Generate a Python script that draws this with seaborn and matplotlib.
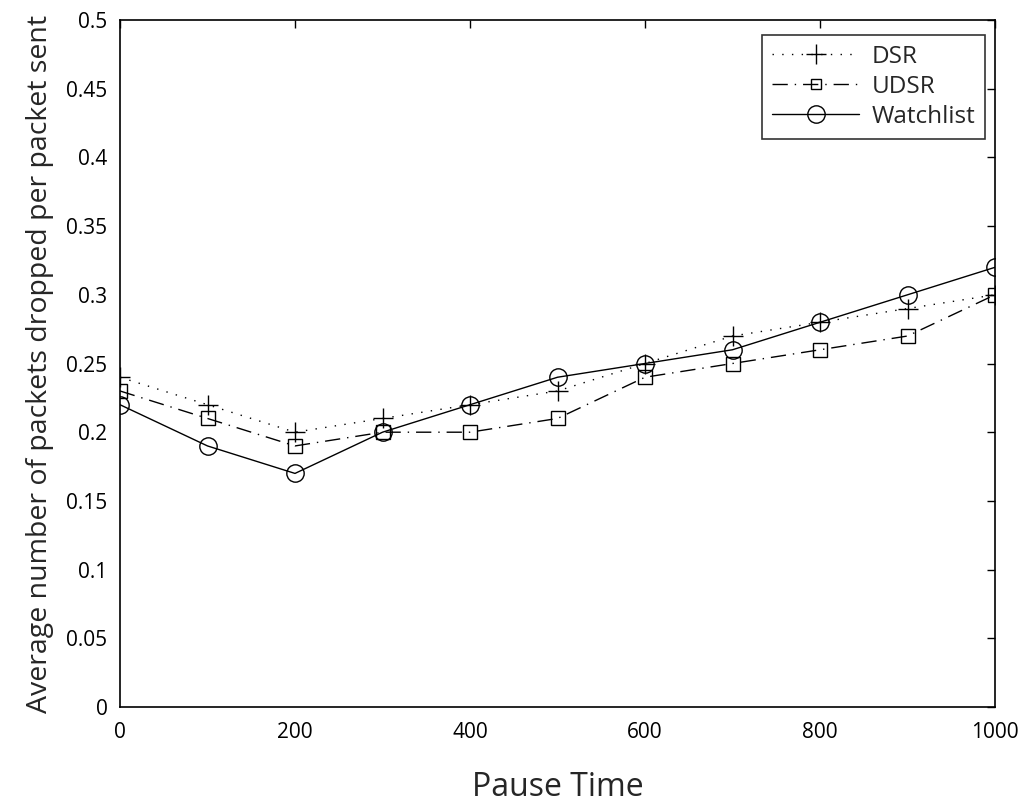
import matplotlib
matplotlib.use("Agg")
import matplotlib.pyplot as plt
import seaborn as sns
import pandas as pd

pause_time = [0, 100, 200, 300, 400, 500, 600, 700, 800, 900, 1000]
dsr = [0.24, 0.22, 0.20, 0.21, 0.22, 0.23, 0.25, 0.27, 0.28, 0.29, 0.30]
udsr = [0.23, 0.21, 0.19, 0.20, 0.20, 0.21, 0.24, 0.25, 0.26, 0.27, 0.30]
watchlist = [0.22, 0.19, 0.17, 0.20, 0.22, 0.24, 0.25, 0.26, 0.28, 0.30, 0.32]
x_ticks = [0, 200, 400, 600, 800, 1000]
y_ticks = [0, 0.05, 0.1, 0.15, 0.2, 0.25, 0.3, 0.35, 0.4, 0.45, 0.5]
y_tick_labels = ["0", "0.05", "0.1", "0.15", "0.2", "0.25", "0.3", "0.35", "0.4", "0.45", "0.5"]

sns.set_style("white")
plt.rcParams['font.family'] = ['Open Sans', 'DejaVu Sans']

fig = plt.figure(figsize=(10.18, 8.06), dpi=100)
ax = fig.add_axes([120/1018, 1-707/806, (995-120)/1018, (707-20)/806])

df = pd.DataFrame({"x": pause_time, "DSR": dsr, "UDSR": udsr, "Watchlist": watchlist})

sns.lineplot(data=df, x="x", y="DSR", ax=ax, color="black", lw=1.0,
             marker="+", markersize=14, markeredgecolor="black", markeredgewidth=1.0,
             label="DSR")
sns.lineplot(data=df, x="x", y="UDSR", ax=ax, color="black", lw=1.0,
             marker="s", markersize=10, markerfacecolor="none", markeredgecolor="black",
             markeredgewidth=1.0, label="UDSR")
sns.lineplot(data=df, x="x", y="Watchlist", ax=ax, color="black", linestyle="-", lw=1.0,
             marker="o", markersize=12.5, markerfacecolor="none", markeredgecolor="black",
             markeredgewidth=1.0, label="Watchlist")
ax.lines[0].set_linestyle((0, (1, 6)))
ax.lines[1].set_linestyle((0, (11, 5, 1, 5)))

ax.set_xlim(0, 1000)
ax.set_ylim(0, 0.5)
ax.set_xticks(x_ticks)
ax.set_yticks(y_ticks)
ax.set_yticklabels(y_tick_labels)
ax.tick_params(direction="in", length=6, width=1, top=True, right=True,
               labelsize=15, colors="black")
ax.tick_params(axis="x", pad=11)
ax.tick_params(axis="y", pad=9)
for s in ax.spines.values():
    s.set_color("black")
    s.set_linewidth(1.2)
ax.set_xlabel("Pause Time", fontsize=23, labelpad=20)
ax.set_ylabel("Average number of packets dropped per packet sent", fontsize=20.5, labelpad=9)

leg = ax.legend(loc="upper right", fontsize=17.5, frameon=True, fancybox=False,
                edgecolor="black", handlelength=3.6, borderpad=0.4, labelspacing=0.25,
                handletextpad=0.5, borderaxespad=0, bbox_to_anchor=(0.9886, 0.978))
leg.get_frame().set_linewidth(1.2)
for h in leg.get_lines():
    if h.get_marker() == "s":
        h.set_markersize(7)

fig.savefig("out.png", dpi=100)
